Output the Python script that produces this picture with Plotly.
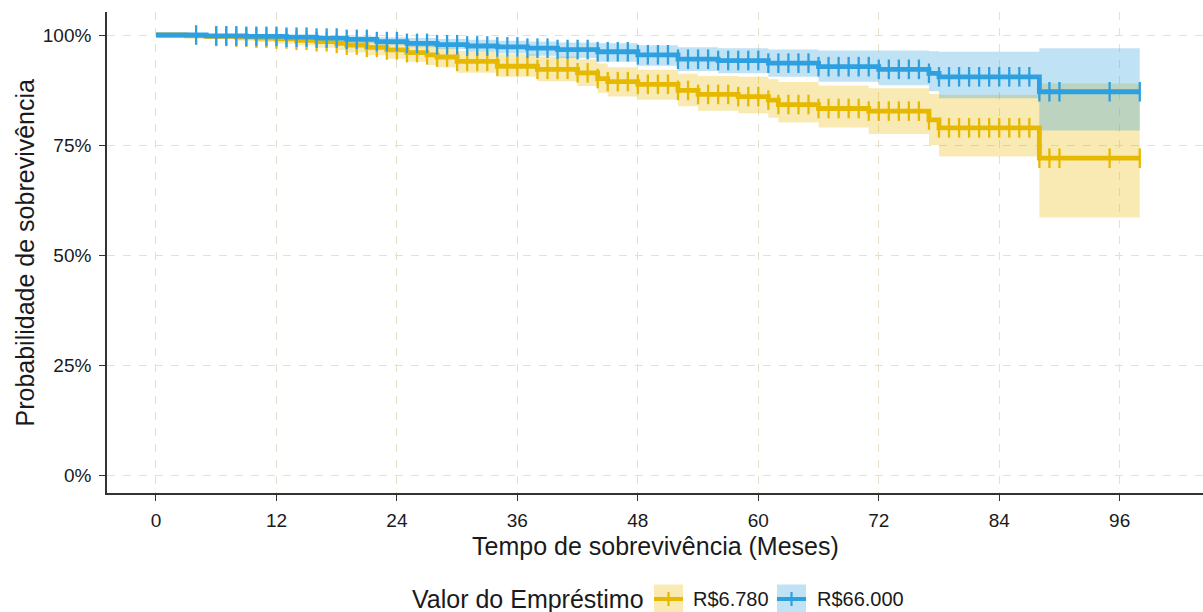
import numpy as np
import plotly.graph_objects as go

# ---- data ----
groups = ["R$6.780", "R$66.000"]
colors = ["#E7B800", "#2E9FDF"]
fills = ["rgba(231,184,0,0.30)", "rgba(46,159,223,0.30)"]

# R$6.780
t_low = [0, 3, 5, 8, 10, 12, 14, 16, 18, 19, 21, 23, 25, 27, 28, 30, 34, 38, 42, 44, 45, 48, 52, 54, 58, 61, 62, 66, 71, 77, 78, 88, 98]
s_low = [1, .998, .997, .995, .993, .991, .988, .985, .981, .977, .972, .966, .960, .955, .950, .940, .929, .922, .914, .901, .894, .888, .874, .865, .860, .852, .842, .833, .827, .807, .789, .720, .720]
lo_low = [1, .994, .991, .987, .984, .980, .976, .971, .966, .960, .954, .946, .939, .932, .926, .914, .905, .895, .884, .869, .860, .853, .838, .828, .822, .812, .801, .790, .775, .750, .724, .585, .585]
up_low = [1, 1, 1, 1, 1, .999, .997, .995, .992, .990, .987, .983, .979, .976, .972, .964, .956, .951, .945, .935, .927, .921, .912, .907, .905, .900, .893, .885, .879, .866, .864, .890, .890]
cens_low = [6, 7, 8, 9, 10, 11, 12, 13, 14, 15, 16, 17, 18, 19, 20, 21, 22, 23, 24, 25, 26, 27, 28, 29, 30,
            31, 32, 33, 34, 35, 36, 37, 38, 39, 40, 41, 42, 43, 44, 45, 46, 47, 48, 49, 50, 51, 52, 53, 54, 55,
            56, 57, 58, 59, 60, 61, 62, 63, 64, 65, 66, 67, 68, 69, 70, 71, 72, 73, 74, 75, 76, 77, 78, 79, 80,
            81, 82, 83, 84, 85, 86, 87, 88, 89, 90, 95, 98]

# R$66.000
t_high = [0, 5, 9, 13, 16, 19, 22, 25, 28, 31, 34, 37, 40, 44, 48, 52, 56, 61, 66, 72, 77, 78, 88, 98]
s_high = [1, .998, .997, .995, .993, .990, .985, .981, .978, .975, .973, .970, .967, .962, .955, .945, .942, .936, .928, .922, .913, .905, .871, .871]
lo_high = [1, .995, .992, .988, .985, .981, .977, .972, .968, .963, .958, .953, .948, .939, .930, .918, .913, .905, .894, .886, .872, .856, .783, .783]
up_high = [1, 1, 1, .999, .998, .997, .995, .993, .991, .989, .987, .985, .983, .981, .977, .972, .970, .967, .965, .965, .963, .962, .970, .970]
cens_high = [4, 6, 7, 8, 9, 10, 11, 12, 13, 14, 15, 16, 17, 18, 19, 20, 21, 22, 23, 24, 25, 26, 27, 28, 29, 30,
             31, 32, 33, 34, 35, 36, 37, 38, 39, 40, 41, 42, 43, 44, 45, 46, 47, 48, 49, 50, 51, 52, 53, 54, 55,
             56, 57, 58, 59, 60, 61, 62, 63, 64, 65, 66, 67, 68, 69, 70, 71, 72, 73, 74, 75, 76, 77, 78, 79, 80,
             81, 82, 83, 84, 85, 86, 87, 88, 89, 90, 95, 98]

x_ticks = [0, 12, 24, 36, 48, 60, 72, 84, 96]
y_ticks = [0, 0.25, 0.5, 0.75, 1.0]
y_labels = ["0%", "25%", "50%", "75%", "100%"]
x_title = "Tempo de sobrevivência (Meses)"
y_title = "Probabilidade de sobrevivência"
legend_title = "Valor do Empréstimo"

series = [
    (t_low, s_low, lo_low, up_low, cens_low),
    (t_high, s_high, lo_high, up_high, cens_high),
]

FONT = "Liberation Sans, Arial, sans-serif"
W, H = 1203, 612
ML, MR, MT, MB = 107, 0, 12, 119
PW, PH = W - ML - MR, H - MT - MB


def px_x(p):  # pixel -> paper x
    return (p - ML) / PW


def px_y(p):  # pixel -> paper y
    return (H - MB - p) / PH


fig = go.Figure()

# ribbons
for (t, s, lo, up, c), col, fc in zip(series, colors, fills):
    fig.add_trace(go.Scatter(x=t, y=lo, mode="lines", line=dict(width=0, shape="hv"),
                             showlegend=False, hoverinfo="skip"))
    fig.add_trace(go.Scatter(x=t, y=up, mode="lines", line=dict(width=0, shape="hv"),
                             fill="tonexty", fillcolor=fc, showlegend=False, hoverinfo="skip"))

# curves + censor marks
for (t, s, lo, up, c), col in zip(series, colors):
    fig.add_trace(go.Scatter(x=t, y=s, mode="lines", line=dict(color=col, width=4.8, shape="hv"),
                             showlegend=False, hoverinfo="skip"))
    tt = np.array(t, dtype=float)
    ss = np.array(s, dtype=float)
    idx = np.searchsorted(tt, np.array(c, dtype=float), side="right") - 1
    fig.add_trace(go.Scatter(x=c, y=ss[idx], mode="markers",
                             marker=dict(symbol="line-ns", size=14,
                                         line=dict(color=col, width=2.3)),
                             showlegend=False, hoverinfo="skip"))

# ---- manual legend (bottom) ----
shapes = []
annotations = []
leg_cy = 599
annotations.append(dict(text=legend_title, xref="paper", yref="paper", x=px_x(646), y=px_y(leg_cy),
                        xanchor="right", yanchor="middle", showarrow=False,
                        font=dict(size=25, color="#1a1a1a", family=FONT)))
key_x0 = [654, 777]
key_w = 29
text_x0 = [691, 815]
for g, col, fc, kx, tx in zip(groups, colors, fills, key_x0, text_x0):
    shapes.append(dict(type="rect", xref="paper", yref="paper", x0=px_x(kx), x1=px_x(kx + key_w),
                       y0=px_y(leg_cy + 14.5), y1=px_y(leg_cy - 14.5), fillcolor=fc,
                       line=dict(width=0), layer="above"))
    shapes.append(dict(type="line", xref="paper", yref="paper", x0=px_x(kx), x1=px_x(kx + key_w),
                       y0=px_y(leg_cy), y1=px_y(leg_cy), line=dict(color=col, width=4), layer="above"))
    shapes.append(dict(type="line", xref="paper", yref="paper", x0=px_x(kx + key_w / 2), x1=px_x(kx + key_w / 2),
                       y0=px_y(leg_cy - 7), y1=px_y(leg_cy + 7), line=dict(color=col, width=2.2), layer="above"))
    annotations.append(dict(text=g, xref="paper", yref="paper", x=px_x(tx), y=px_y(leg_cy),
                            xanchor="left", yanchor="middle", showarrow=False,
                            font=dict(size=20, color="#1a1a1a", family=FONT)))

# axis titles
annotations.append(dict(text=x_title, xref="paper", yref="paper", x=0.5, y=px_y(546),
                        xanchor="center", yanchor="middle", showarrow=False,
                        font=dict(size=25, color="#1a1a1a", family=FONT)))
annotations.append(dict(text=y_title, xref="paper", yref="paper", x=px_x(24), y=0.5,
                        xanchor="center", yanchor="middle", showarrow=False, textangle=-90,
                        font=dict(size=25, color="#1a1a1a", family=FONT)))

grid = dict(showgrid=True, gridcolor="#EADFCD", gridwidth=1.3, griddash="8px,8px")

fig.update_layout(
    width=W, height=H,
    margin=dict(l=ML, r=MR, t=MT, b=MB, autoexpand=False),
    paper_bgcolor="white", plot_bgcolor="white",
    font=dict(family=FONT, color="#222222"),
    showlegend=False,
    shapes=shapes, annotations=annotations,
    xaxis=dict(range=[-4.88, 104.3], tickvals=x_ticks, ticktext=[str(v) for v in x_ticks],
               showline=True, linecolor="#333333", linewidth=1.6,
               ticks="outside", ticklen=6, tickcolor="#333333", tickwidth=1.3,
               ticklabelstandoff=3, automargin=False,
               tickfont=dict(size=19, color="#1a1a1a"), zeroline=False, **grid),
    yaxis=dict(range=[-0.0409, 1.0523], tickvals=y_ticks, ticktext=y_labels,
               showline=True, linecolor="#333333", linewidth=1.6,
               ticks="outside", ticklen=6, tickcolor="#333333", tickwidth=1.3,
               ticklabelstandoff=4, automargin=False,
               tickfont=dict(size=19, color="#1a1a1a"), zeroline=False, **grid),
)

fig.write_html(
    "out.html",
    config={"displayModeBar": False},
    post_script="document.body.style.margin='0';document.body.style.padding='0';"
                "document.documentElement.style.overflow='hidden';",
)
